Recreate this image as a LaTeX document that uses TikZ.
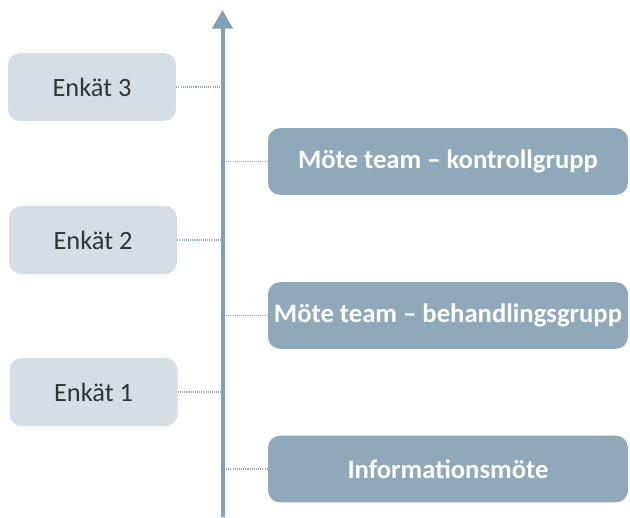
\documentclass[tikz,border=0pt]{standalone}
\usepackage{fontspec}
\setmainfont{Carlito}
\usepackage{tikz}
\usetikzlibrary{arrows.meta}

\begin{document}
\begin{tikzpicture}[x=0.75pt,y=0.75pt,yscale=-1,xscale=1,
  enkat/.style={fill={rgb,255:red,211;green,222;blue,230},rounded corners=9pt,minimum width=126pt,minimum height=51pt,inner sep=0pt,text={rgb,255:red,50;green,52;blue,54},font=\fontsize{19.8pt}{22pt}\selectfont},
  mote/.style={fill={rgb,255:red,143;green,169;blue,187},rounded corners=9pt,minimum width=270pt,minimum height=50pt,inner sep=0pt,text=white,font=\bfseries\fontsize{20pt}{22pt}\selectfont},
  tidlinje/.style={draw={rgb,255:red,127;green,160;blue,184},line width=3pt,-{Triangle[width=15pt,length=14pt]}},
  prickad/.style={draw={rgb,255:red,140;green,165;blue,185},line width=0.8pt,dash pattern=on 0.8pt off 0.8pt}
]
\useasboundingbox (0,0) rectangle (630,517);

%Axis
\coordinate (axisbot) at (222.5,517);
\coordinate (axistop) at (222.5,10);
\draw [tidlinje] (axisbot) -- (axistop);

% Text Node
\node [enkat] (enkat3) at (92,87) {Enkät 3};
% Text Node
\node [enkat] (enkat2) at (93,240) {Enkät 2};
% Text Node
\node [enkat] (enkat1) at (93.5,392) {Enkät 1};

% Text Node
\node [mote] (kontroll) at (448,161.5) {Möte team – kontrollgrupp};
% Text Node
\node [mote] (behandling) at (448,315.5) {Möte team – behandlingsgrupp};
% Text Node
\node [mote] (info) at (448,469) {Informationsmöte};

%Dotted Lines
\draw [prickad] (enkat3.east) -- (enkat3.east -| axistop);
\draw [prickad] (enkat2.east) -- (enkat2.east -| axistop);
\draw [prickad] (enkat1.east) -- (enkat1.east -| axistop);
\draw [prickad] (kontroll.west) -- (kontroll.west -| axistop);
\draw [prickad] (behandling.west) -- (behandling.west -| axistop);
\draw [prickad] (info.west) -- (info.west -| axistop);

\end{tikzpicture}
\end{document}
